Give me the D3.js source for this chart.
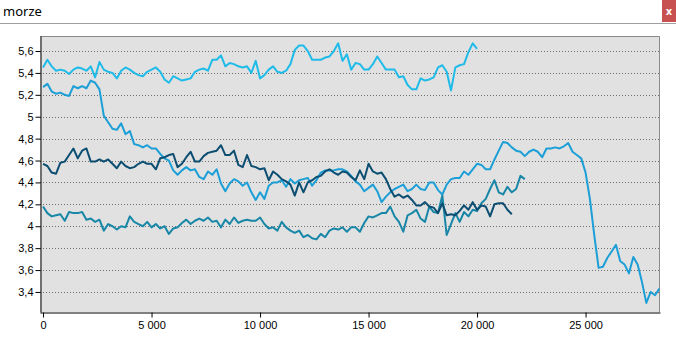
<!DOCTYPE html>
<html>
<head>
<meta charset="utf-8">
<script src="https://cdn.jsdelivr.net/npm/d3@7"></script>
<style>
  body { margin: 0; background: #ffffff; }
  svg { display: block; }
  .tick text { font-family: "Liberation Sans", Arial, sans-serif; font-size: 11px; fill: #000; }
</style>
</head>
<body>
<svg id="chart" width="676" height="338"></svg>
<script>
// Sample spacing along the x axis (one reading every 200 units)
const sampleStep = 200;

// Series readings, one value per sample, starting at x = 0
const seriesA = [5.45,5.52,5.46,5.42,5.43,5.42,5.39,5.43,5.45,5.44,5.42,5.46,5.36,5.50,5.43,5.41,5.40,5.35,5.42,5.45,5.43,5.40,5.38,5.37,5.41,5.43,5.45,5.41,5.34,5.31,5.37,5.35,5.33,5.34,5.35,5.41,5.43,
  5.44,5.42,5.52,5.52,5.56,5.46,5.49,5.48,5.46,5.45,5.46,5.40,5.51,5.35,5.38,5.43,5.46,5.41,5.40,5.42,5.48,5.61,5.65,5.65,5.60,5.52,5.52,5.52,5.54,5.55,5.60,5.67,5.51,5.57,5.43,
  5.49,5.48,5.43,5.43,5.48,5.55,5.49,5.43,5.43,5.43,5.36,5.37,5.29,5.25,5.25,5.35,5.33,5.34,5.36,5.45,5.47,5.41,5.24,5.45,5.47,5.48,5.59,5.67,5.62];

const seriesB = [5.27,5.30,5.23,5.21,5.22,5.20,5.19,5.28,5.26,5.28,5.26,5.33,5.31,5.25,5.01,4.95,4.89,4.88,4.94,4.84,4.87,4.75,4.74,4.72,4.74,4.71,4.71,4.66,4.62,4.60,4.51,4.47,4.51,4.54,4.51,4.52,4.45,
  4.43,4.50,4.47,4.52,4.39,4.32,4.39,4.43,4.41,4.37,4.40,4.31,4.24,4.31,4.25,4.37,4.40,4.40,4.42,4.36,4.43,4.39,4.42,4.43,4.44,4.37,4.42,4.49,4.51,4.51,4.51,4.52,4.52,4.50,4.46,
  4.41,4.38,4.32,4.35,4.38,4.32,4.22,4.27,4.31,4.34,4.36,4.38,4.32,4.34,4.38,4.34,4.33,4.40,4.40,4.33,4.29,4.38,4.43,4.44,4.44,4.50,4.47,4.52,4.57,4.56,4.52,4.52,4.61,4.69,4.77,4.76,
  4.72,4.69,4.68,4.64,4.68,4.70,4.68,4.63,4.71,4.71,4.72,4.71,4.73,4.76,4.68,4.65,4.62,4.49,4.25,3.92,3.62,3.63,3.71,3.77,3.83,3.68,3.65,3.57,3.72,3.65,3.49,3.30,3.40,3.37,3.43];

const seriesC = [4.57,4.55,4.49,4.48,4.58,4.59,4.65,4.71,4.62,4.69,4.71,4.59,4.59,4.61,4.59,4.61,4.57,4.53,4.59,4.55,4.53,4.54,4.57,4.59,4.57,4.57,4.52,4.62,4.63,4.65,4.66,4.54,4.57,4.63,4.68,4.59,4.59,
  4.64,4.67,4.68,4.69,4.74,4.65,4.65,4.69,4.56,4.54,4.65,4.55,4.54,4.52,4.53,4.42,4.50,4.47,4.43,4.41,4.38,4.28,4.40,4.31,4.40,4.42,4.45,4.46,4.50,4.52,4.49,4.47,4.50,4.49,4.45,
  4.42,4.51,4.43,4.57,4.50,4.48,4.49,4.43,4.34,4.27,4.29,4.26,4.28,4.24,4.19,4.19,4.22,4.18,4.17,4.12,4.21,4.10,4.11,4.10,4.14,4.19,4.15,4.22,4.15,4.19,4.18,4.09,4.20,4.21,4.21,4.15,4.11];

const seriesD = [4.18,4.12,4.09,4.10,4.11,4.05,4.13,4.12,4.12,4.13,4.06,4.07,4.04,4.06,3.96,4.02,4.00,3.97,4.00,3.99,4.09,4.04,4.02,4.00,4.04,3.99,4.02,3.98,4.00,3.93,3.98,3.99,4.03,4.06,4.02,4.05,4.07,
  4.05,4.08,4.04,4.05,3.99,4.06,4.02,4.08,4.03,4.05,4.06,4.05,4.05,4.08,4.02,3.98,3.99,3.96,4.04,3.99,3.96,3.94,3.96,3.90,3.92,3.89,3.88,3.93,3.90,3.96,3.98,3.97,3.99,3.95,3.99,
  3.99,3.95,4.03,4.09,4.08,4.10,4.12,4.12,4.18,4.09,4.04,3.95,4.10,4.12,4.15,4.07,4.04,4.18,4.13,4.12,4.28,3.92,4.02,4.12,4.04,4.13,4.09,4.15,4.14,4.21,4.25,4.34,4.42,4.31,4.29,4.36,4.31,4.34,4.46,4.43];

const seriesColors = ["#1fbbe9", "#1c9fd7", "#0c4e72", "#1887a7"];

const xTicks = [0, 5000, 10000, 15000, 20000, 25000];
const yTicks = [3.4, 3.6, 3.8, 4, 4.2, 4.4, 4.6, 4.8, 5, 5.2, 5.4, 5.6];

const chartTitle = "morze";

// ---- layout ----
const W = 676, H = 338;
const plot = { left: 40, right: 660, top: 36, bottom: 312 };

const locale = d3.formatLocale({ decimal: ",", thousands: " ", grouping: [3], currency: ["", ""] });
const fmtX = locale.format(",");
const fmtY = locale.format("~g");

const svg = d3.select("#chart");

// title bar
svg.append("rect").attr("x", 0).attr("y", 0).attr("width", W).attr("height", 23).attr("fill", "#ffffff");
svg.append("text")
  .attr("x", 3).attr("y", 16)
  .attr("font-family", "'Noto Sans', 'DejaVu Sans', sans-serif")
  .attr("font-size", 13)
  .attr("fill", "#000")
  .text(chartTitle);
svg.append("rect").attr("x", 662).attr("y", 0).attr("width", 14).attr("height", 22).attr("fill", "#c75050");
svg.append("text")
  .attr("x", 669).attr("y", 15)
  .attr("text-anchor", "middle")
  .attr("font-family", "'DejaVu Sans', sans-serif")
  .attr("font-size", 10)
  .attr("font-weight", "bold")
  .attr("fill", "#ffffff")
  .text("x");
svg.append("line")
  .attr("x1", 0).attr("x2", W).attr("y1", 23.5).attr("y2", 23.5)
  .attr("stroke", "#a0a0a0").attr("stroke-width", 1);

// scales
const x = d3.scaleLinear().domain([-140, 28430]).range([plot.left, plot.right]);
const y = d3.scaleLinear().domain([3.217, 5.737]).range([plot.bottom, plot.top]);

// plot background and frame
svg.append("rect")
  .attr("x", plot.left).attr("y", plot.top)
  .attr("width", plot.right - plot.left).attr("height", plot.bottom - plot.top)
  .attr("fill", "#e1e1e1");
svg.append("path")
  .attr("d", `M${plot.left},${plot.top + 0.5}H${plot.right - 0.5}V${plot.bottom}`)
  .attr("fill", "none").attr("stroke", "#8a8a8a").attr("stroke-width", 1);

// dotted horizontal grid
svg.append("g").selectAll("line").data(yTicks).join("line")
  .attr("x1", plot.left).attr("x2", plot.right)
  .attr("y1", d => Math.round(y(d)) + 0.5).attr("y2", d => Math.round(y(d)) + 0.5)
  .attr("stroke", "#707070").attr("stroke-width", 1).attr("stroke-dasharray", "1,2");

// series lines
const line = d3.line()
  .x((d, i) => x(i * sampleStep))
  .y(d => y(d));

const clip = svg.append("clipPath").attr("id", "plotClip").append("rect")
  .attr("x", plot.left + 1).attr("y", plot.top + 1)
  .attr("width", plot.right - plot.left - 1).attr("height", plot.bottom - plot.top - 1);

const gLines = svg.append("g").attr("clip-path", "url(#plotClip)");
[seriesA, seriesB, seriesD, seriesC].forEach((s) => {
  const idx = [seriesA, seriesB, seriesC, seriesD].indexOf(s);
  gLines.append("path")
    .datum(s)
    .attr("d", line)
    .attr("fill", "none")
    .attr("stroke", seriesColors[idx])
    .attr("stroke-width", 2)
    .attr("stroke-linejoin", "round");
});

// axes
const yAxis = d3.axisLeft(y).tickValues(yTicks).tickFormat(fmtY).tickSize(5).tickSizeOuter(0).tickPadding(2);
const gy = svg.append("g").attr("transform", `translate(${plot.left + 0.5},0)`).call(yAxis);
gy.select(".domain").attr("stroke", "#000");
gy.selectAll(".tick line").attr("stroke", "#000");

const xAxis = d3.axisBottom(x).tickValues(xTicks).tickFormat(fmtX).tickSize(5).tickSizeOuter(0).tickPadding(4);
const gx = svg.append("g").attr("transform", `translate(0,${plot.bottom + 0.5})`).call(xAxis);
gx.select(".domain").attr("stroke", "#000");
gx.selectAll(".tick line").attr("stroke", "#000");
</script>
</body>
</html>
